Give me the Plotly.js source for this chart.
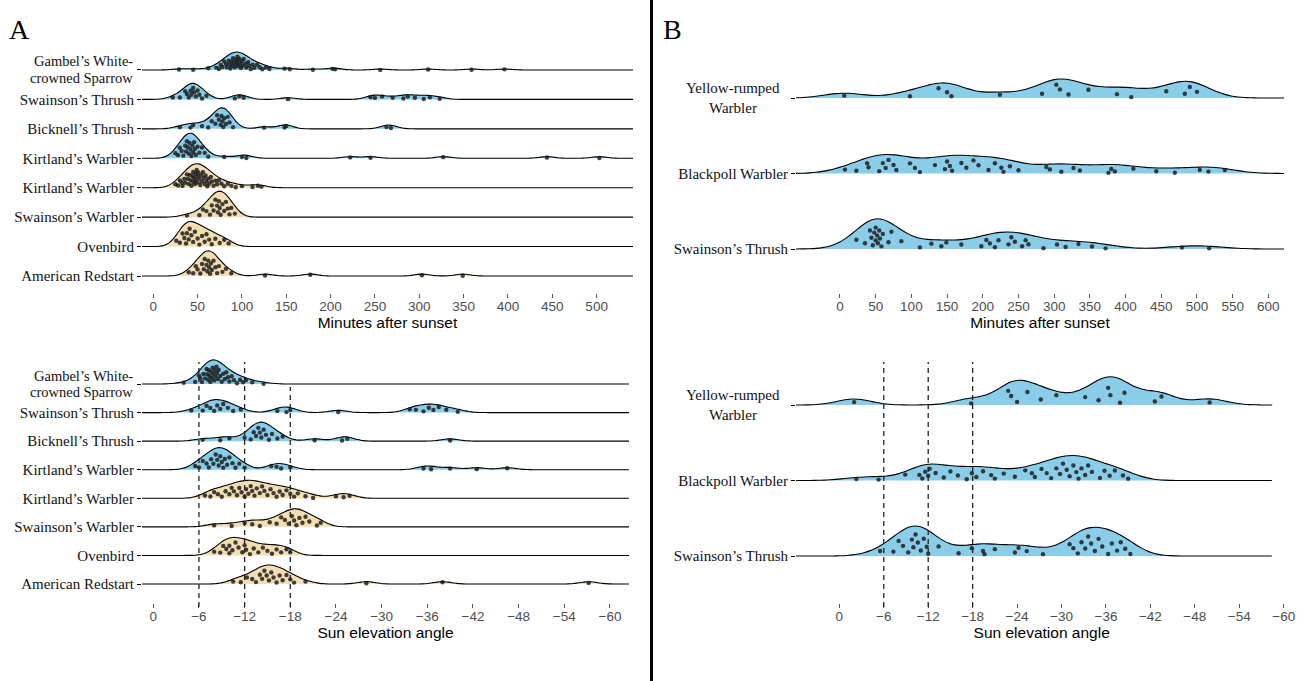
<!DOCTYPE html>
<html>
<head>
<meta charset="utf-8">
<script src="https://cdn.plot.ly/plotly-3.0.1.min.js"></script>
<style>html,body{margin:0;padding:0;background:#fff;}#chart{width:1306px;height:681px;}</style>
</head>
<body>
<div id="chart"></div>
<script>
// ---------------- DATA ----------------
const speciesA = ["Gambel’s White-<br>crowned Sparrow", "Swainson’s Thrush", "Bicknell’s Thrush", "Kirtland’s Warbler",
                  "Kirtland’s Warbler", "Swainson’s Warbler", "Ovenbird", "American Redstart"];
const groupA = ["G1", "G1", "G1", "G1", "G2", "G2", "G2", "G2"];
const speciesB = ["Yellow-rumped<br>Warbler", "Blackpoll Warbler", "Swainson’s Thrush"];
const groupB = ["G1", "G1", "G1"];

const minTicksA = [0, 50, 100, 150, 200, 250, 300, 350, 400, 450, 500];
const minTicksB = [0, 50, 100, 150, 200, 250, 300, 350, 400, 450, 500, 550, 600];
const sunTicks = [0, -6, -12, -18, -24, -30, -36, -42, -48, -54, -60];
const twilightAngles = [-6, -12, -18];

// Panel A, minutes after sunset
const minA_GWCS = [29, 45, 62, 71, 74, 76, 78, 80, 82, 83, 85, 86, 87, 88, 89, 90, 91, 92, 93, 94, 95, 95, 96, 97, 98, 99, 100, 101, 102, 104, 105, 107, 108, 110, 112, 114, 117, 120, 123, 127, 131, 148, 154, 180, 202, 205, 256, 310, 359, 396];
const minA_SWTH = [22, 30, 36, 38, 40, 42, 43, 45, 46, 48, 50, 52, 55, 60, 92, 97, 102, 152, 245, 250, 258, 270, 282, 287, 295, 305, 312, 323];
const minA_BITH = [30, 42, 45, 55, 62, 66, 70, 72, 74, 76, 77, 78, 79, 80, 82, 84, 86, 90, 125, 148, 150, 263, 268];
const minA_KIWA1 = [25, 28, 30, 32, 34, 36, 37, 38, 39, 40, 41, 42, 43, 44, 45, 46, 47, 48, 50, 52, 55, 58, 62, 80, 100, 105, 222, 245, 327, 444, 503];
const minA_KIWA2 = [25, 28, 30, 32, 33, 35, 36, 38, 39, 40, 41, 42, 43, 44, 45, 45, 46, 47, 48, 48, 49, 50, 50, 51, 52, 53, 54, 55, 56, 57, 58, 59, 60, 61, 62, 63, 65, 66, 68, 70, 72, 74, 77, 80, 84, 88, 93, 100, 112, 118, 122];
const minA_SWWA = [38, 52, 56, 60, 64, 66, 68, 70, 72, 73, 74, 75, 76, 78, 80, 82, 84, 86, 88, 92];
const minA_OVEN = [26, 30, 33, 35, 37, 38, 40, 41, 43, 45, 47, 50, 52, 55, 58, 60, 63, 66, 70, 75, 80, 85];
const minA_AMRE = [40, 45, 48, 50, 53, 55, 57, 58, 60, 61, 62, 63, 64, 65, 66, 68, 70, 72, 74, 78, 82, 88, 126, 177, 303, 349];

// Panel A, sun elevation angle
const sunA_GWCS = [-4, -5.5, -6, -6.2, -6.4, -6.6, -6.8, -7, -7.1, -7.2, -7.3, -7.4, -7.5, -7.6, -7.7, -7.8, -7.9, -8, -8.1, -8.2, -8.3, -8.4, -8.5, -8.6, -8.8, -9, -9.2, -9.4, -9.6, -9.8, -10, -10.3, -10.6, -11, -11.4, -11.8, -12.2, -13, -14.5];
const sunA_SWTH = [-5, -6.5, -7, -7.5, -8, -8.4, -8.8, -9.2, -9.8, -10.5, -11.5, -16.3, -17.5, -18, -24.3, -33.7, -34.5, -35.5, -36.2, -36.8, -37.5, -38.5, -40];
const sunA_BITH = [-6.5, -8.8, -10, -12, -12.8, -13.2, -13.5, -13.8, -14, -14.2, -14.5, -14.8, -15.2, -15.6, -16.3, -17, -21.2, -24.8, -25.5, -39];
const sunA_KIWA1 = [-5.5, -6, -6.5, -7, -7.3, -7.6, -7.9, -8.2, -8.4, -8.6, -8.8, -9, -9.2, -9.4, -9.7, -10, -10.4, -10.8, -11.3, -12, -15.5, -16.2, -16.8, -18, -35.5, -36.5, -39, -42.5, -46.5];
const sunA_KIWA2 = [-6.8, -7.5, -8, -8.5, -9, -9.5, -10, -10.3, -10.6, -11, -11.3, -11.6, -12, -12.2, -12.5, -12.8, -13, -13.3, -13.6, -14, -14.3, -14.6, -15, -15.4, -15.8, -16.2, -16.6, -17, -17.5, -18, -18.5, -19, -20, -21, -24, -25, -25.8];
const sunA_SWWA = [-8, -10.3, -12, -13, -14, -15.3, -16.2, -16.8, -17.3, -17.8, -18.2, -18.5, -18.8, -19.2, -19.6, -20, -20.5, -21.5, -22];
const sunA_OVEN = [-8, -8.8, -9.2, -9.6, -10, -10, -10.4, -10.8, -11.2, -11.7, -12, -12.2, -12.7, -13.2, -13.8, -14.4, -15, -15.6, -16.2, -16.8, -17.5, -18];
const sunA_AMRE = [-10.5, -11.5, -12.3, -13, -13.5, -14, -14.3, -14.6, -14.9, -15.2, -15.5, -15.8, -16.2, -16.6, -17, -17.5, -18, -18.5, -20, -28, -38, -57.2];

// Panel B, minutes after sunset
const minB_YRWA = [6, 98, 138, 150, 156, 224, 283, 303, 308, 320, 348, 388, 408, 457, 483, 490, 500];
const minB_BLPW = [7, 23, 38, 40, 55, 60, 64, 68, 75, 79, 98, 105, 112, 133, 147, 150, 154, 157, 170, 177, 187, 194, 208, 217, 226, 229, 238, 250, 289, 294, 310, 327, 336, 376, 380, 385, 411, 443, 469, 504, 516, 539];
const minB_SWTH = [23, 35, 42, 44, 46, 48, 50, 50, 52, 53, 55, 56, 58, 60, 68, 72, 86, 112, 128, 142, 149, 170, 198, 205, 210, 217, 222, 236, 240, 245, 255, 260, 264, 285, 304, 316, 334, 353, 372, 479, 517];

// Panel B, sun elevation angle
const sunB_YRWA = [-2, -17.8, -22.8, -23.2, -24, -25.4, -27.2, -29.3, -33.2, -35, -36.3, -36.6, -37.9, -38.5, -42.6, -43.5, -50];
const sunB_BLPW = [-2.3, -5.3, -8.9, -10.8, -11.2, -11.6, -12, -12.2, -13, -14.1, -15, -16, -17.2, -17.9, -18.5, -19.4, -20.5, -21, -22.2, -23.7, -25.1, -26, -26.4, -27.3, -28, -28.6, -29.3, -29.8, -30.2, -30.7, -31.1, -31.6, -32, -32.3, -32.7, -33.2, -33.6, -34.1, -35.2, -35.8, -36.5, -37.2, -38.3, -39];
const sunB_SWTH = [-5.5, -7.3, -8, -8.6, -9.3, -9.8, -10, -10.3, -10.6, -11, -11.4, -11.8, -12, -13.4, -16.1, -17.9, -19.4, -19.6, -21, -23.7, -24.2, -25.3, -27.5, -31.1, -31.6, -32.2, -32.7, -33.2, -33.6, -34, -34.5, -35, -35.5, -36.3, -36.8, -37.5, -38, -38.6, -39.3];

// ---------------- STYLE / LAYOUT ----------------
const W = 1306, H = 681;
const fillColors = { G1: "#8ACDE8", G2: "#F3DDB3" };
const serif = "Liberation Serif, Times New Roman, serif";
const sans = "Liberation Sans, Arial, sans-serif";

const panels = [
  { id: "", labels: speciesA, groups: groupA,
    series: [minA_GWCS, minA_SWTH, minA_BITH, minA_KIWA1, minA_KIWA2, minA_SWWA, minA_OVEN, minA_AMRE],
    peakPx: [18, 16, 21, 25, 24, 26, 25, 25], bw: 8.5,
    xPx: [142, 633], xRange: [-12.7, 541], span: [-12.7, 541], ticks: minTicksA, title: "Minutes after sunset",
    yPx: [40, 293], base1: 276, step: 29.43, labelX: 135, labelAnchor: "right", lineOff: [8.5, -8], lineFont: 14.5 },
  { id: "2", labels: speciesA, groups: groupA,
    series: [sunA_GWCS, sunA_SWTH, sunA_BITH, sunA_KIWA1, sunA_KIWA2, sunA_SWWA, sunA_OVEN, sunA_AMRE],
    peakPx: [24, 13, 19, 22, 18, 18, 18, 19], bw: 1.15,
    xPx: [142, 629], xRange: [1.48, -62.5], span: [-62.5, 1.48], ticks: sunTicks, title: "Sun elevation angle",
    yPx: [350, 603], base1: 584, step: 28.57, labelX: 135, labelAnchor: "right", lineOff: [8.5, -8], lineFont: 14.5 },
  { id: "3", labels: speciesB, groups: groupB,
    series: [minB_YRWA, minB_BLPW, minB_SWTH],
    peakPx: [19, 19, 30], bw: 28,
    xPx: [796, 1284], xRange: [-61.6, 621.9], span: [-61.6, 621.9], ticks: minTicksB, title: "Minutes after sunset",
    yPx: [40, 293], base1: 249, step: 75.5, labelX: 733, labelAnchor: "center", lineOff: [10, -10], lineFont: 15 },
  { id: "4", labels: speciesB, groups: groupB,
    series: [sunB_YRWA, sunB_BLPW, sunB_SWTH],
    peakPx: [28, 25, 30], bw: 2.3,
    xPx: [796, 1287.4], xRange: [5.85, -60.5], span: [-58.4, 5.85], ticks: sunTicks, title: "Sun elevation angle",
    yPx: [350, 603], base1: 556, step: 75.5, labelX: 733, labelAnchor: "center", lineOff: [10, -10], lineFont: 15 }
];

function kde(vals, bw, x) {
  let s = 0;
  for (const v of vals) { const z = (x - v) / bw; s += Math.exp(-0.5 * z * z); }
  return s / (vals.length * bw * Math.sqrt(2 * Math.PI));
}

const violinTraces = [], pointTraces = [];
const layout = {
  width: W, height: H, margin: { l: 0, r: 0, t: 0, b: 0 },
  paper_bgcolor: "#fff", plot_bgcolor: "rgba(0,0,0,0)",
  showlegend: false, violinmode: "overlay",
  shapes: [], annotations: []
};

panels.forEach(p => {
  const n = p.labels.length;
  const xa = "x" + p.id, ya = "y" + p.id;
  const positions = p.labels.map((_, i) => n - i);
  p.series.forEach((vals, i) => {
    const peak = p.peakPx[i] / p.step;           // ridge height in y units
    violinTraces.push({
      type: "violin", orientation: "h", x: vals, y0: positions[i],
      xaxis: xa, yaxis: ya, side: "positive",
      width: 2 * peak, scalemode: "width",
      bandwidth: p.bw, spanmode: "manual", span: p.span,
      points: false,
      fillcolor: fillColors[p.groups[i]], line: { color: "#000", width: 1.1 },
      box: { visible: false }, meanline: { visible: false },
      hoverinfo: "skip", showlegend: false, name: p.labels[i] + " " + p.id
    });
    // points spread inside the ridge (deterministic spread, scaled by local density)
    let maxD = 0;
    for (let k = 0; k <= 600; k++) {
      const x = p.span[0] + (p.span[1] - p.span[0]) * k / 600;
      maxD = Math.max(maxD, kde(vals, p.bw, x));
    }
    const ys = vals.map((v, j) => {
      const u = 0.08 + 0.84 * (((j + 1) * 0.6180339887) % 1);
      return positions[i] + u * 0.82 * peak * kde(vals, p.bw, v) / maxD;
    });
    pointTraces.push({
      type: "scatter", mode: "markers", x: vals, y: ys, xaxis: xa, yaxis: ya,
      marker: { size: 4.4, color: "rgba(25,25,25,0.82)", line: { width: 0 } },
      hoverinfo: "skip", showlegend: false
    });
  });
  const yr = [1 - (p.yPx[1] - p.base1) / p.step, 1 + (p.base1 - p.yPx[0]) / p.step];
  layout["xaxis" + p.id] = {
    domain: [p.xPx[0] / W, p.xPx[1] / W], anchor: ya, range: p.xRange, autorange: false,
    tickmode: "array", tickvals: p.ticks,
    ticks: "outside", ticklen: 4, tickwidth: 1, tickcolor: "#555",
    ticklabelstandoff: -3,
    showline: false, showgrid: false, zeroline: false,
    tickfont: { family: sans, size: 13.5, color: "#4d4d4d" },
    title: { text: p.title, font: { family: sans, size: 15.5, color: "#000" }, standoff: 1 }
  };
  layout["yaxis" + p.id] = {
    domain: [1 - p.yPx[1] / H, 1 - p.yPx[0] / H], anchor: xa, range: yr, autorange: false,
    tickmode: "array", tickvals: positions,
    ticktext: p.labels.map(l => l.indexOf("<br>") >= 0 ? "" : l),
    ticks: "outside", ticklen: 4, tickwidth: 1, tickcolor: "#000",
    showline: false, showgrid: false, zeroline: false,
    tickfont: { family: serif, size: 15, color: "#111" }
  };
  // two-line labels drawn line by line
  p.labels.forEach((l, i) => {
    if (l.indexOf("<br>") < 0) return;
    l.split("<br>").forEach((line, k) => {
      layout.annotations.push({
        text: line, xref: "paper", yref: ya, x: p.labelX / W, y: positions[i], yshift: p.lineOff[k],
        xanchor: p.labelAnchor, yanchor: "middle", align: p.labelAnchor === "center" ? "center" : "right",
        showarrow: false, font: { family: serif, size: p.lineFont, color: "#111" }
      });
    });
  });
});

// twilight reference lines
twilightAngles.forEach((a, k) => {
  layout.shapes.push({ type: "line", xref: "x2", yref: "paper", x0: a, x1: a,
    y0: 1 - 607 / H, y1: 1 - (k === 2 ? 387 : 362) / H,
    line: { color: "#222", width: 1.3, dash: "5px,4px" } });
  layout.shapes.push({ type: "line", xref: "x4", yref: "paper", x0: a, x1: a,
    y0: 1 - 607 / H, y1: 1 - 362 / H,
    line: { color: "#222", width: 1.3, dash: "5px,4px" } });
});

// divider between panels A and B
layout.shapes.push({ type: "line", xref: "paper", yref: "paper", x0: 651.5 / W, x1: 651.5 / W, y0: 0, y1: 1,
  line: { color: "#000", width: 3 } });

// panel letters
layout.annotations.push({ text: "A", xref: "paper", yref: "paper", x: 7 / W, y: 1 - 29 / H,
  xanchor: "left", yanchor: "middle", showarrow: false, font: { family: serif, size: 28, color: "#000" } });
layout.annotations.push({ text: "B", xref: "paper", yref: "paper", x: 661 / W, y: 1 - 29 / H,
  xanchor: "left", yanchor: "middle", showarrow: false, font: { family: serif, size: 28, color: "#000" } });

Plotly.newPlot("chart", violinTraces.concat(pointTraces), layout, { staticPlot: true, displayModeBar: false });
</script>
</body>
</html>
